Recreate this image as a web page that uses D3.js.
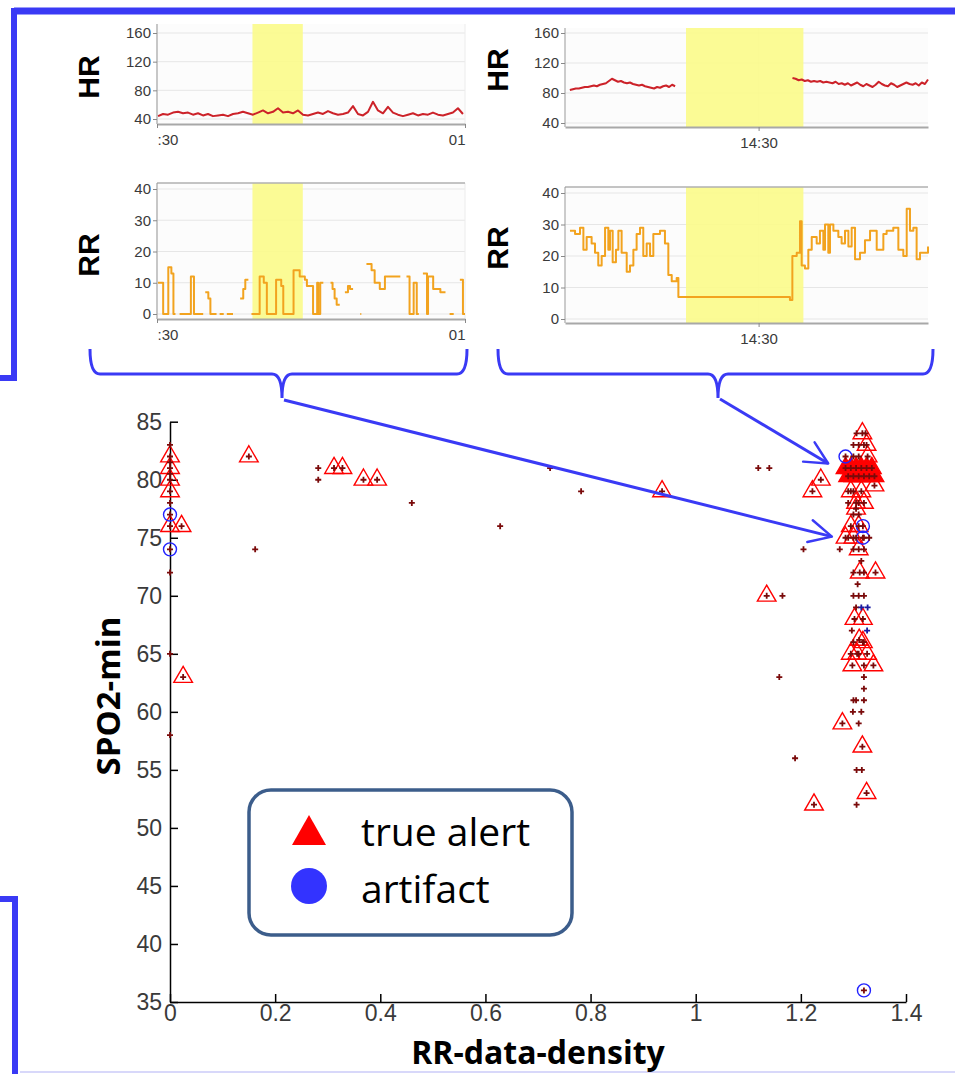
<!DOCTYPE html>
<html>
<head>
<meta charset="utf-8">
<script src="https://cdn.jsdelivr.net/npm/d3@7"></script>
<style>
body { margin: 0; background: #fff; }
svg { display: block; }
</style>
</head>
<body>
<div id="chart"></div>
<script>
// ---- mini trend panels (minutes) ----
// left window: 00:30 -> 01:00, HR sampled evenly between first and last time
const hrLeftValues = [44,47,46,49,50,48,49,46,48,45,47,44,45,46,44,47,48,50,48,46,49,52,48,50,55,49,50,48,52,46,45,47,49,47,51,48,46,47,49,58,47,45,50,64,52,48,57,49,46,44,46,48,45,47,46,49,46,45,47,49,55,47];
const hrLeftSpan = [30.1, 59.8];
const rrLeftTimes = [30.1,30.6,31.1,31.4,31.6,31.8,32.2,33.3,33.6,34.5,34.7,35.0,35.2,35.8,36.1,36.5,36.8,37.4,38.1,38.4,38.6,38.9,39.2,40.0,40.4,40.7,41.6,42.1,42.3,43.3,43.9,44.4,44.6,45.2,45.6,45.7,45.9,46.2,46.9,47.1,47.3,47.5,47.8,48.3,48.6,48.8,49.1,49.8,49.9,50.4,50.9,51.2,51.7,52.2,53.7,54.3,54.6,55.0,55.3,55.5,55.9,56.3,56.4,56.9,57.6,58.1,58.5,58.9,59.5,59.8,60];
const rrLeftValues = [10,0,15,13,0,null,0,12,0,null,7,5,0,null,0,null,0,null,5,8,11,null,0,12,10,0,11,9,0,14,12,11,9,0,10,0,10,null,10,8,5,3,null,7,9,8,null,0,null,16,14,10,8,12,null,12,0,10,0,null,13,0,12,8,7,null,0,null,11,0,null];
const leftHighlight = [39.3, 44.2];
const leftTicks = [30, 60];
const leftTickLabels = [":30", "01"];

// right window: around 14:30 (minutes after 14:00)
const hrRightAValues = [84,85,86,86,87,88,88,89,90,89,91,92,93,96,99,97,95,96,94,93,94,92,91,90,91,89,88,87,86,88,87,89,90,88,91,89];
const hrRightASpan = [14.4, 23.1];
const hrRightBValues = [100,99,97,98,96,97,95,96,95,96,94,95,94,93,95,92,93,91,93,90,92,94,91,89,92,90,88,91,95,92,90,89,93,91,88,90,92,94,92,91,93,90,94,92,98];
const hrRightBSpan = [32.8, 44];
const rrRightTimes = [14.41,14.83,15.24,15.52,15.79,16.20,16.48,16.75,17.03,17.31,17.58,17.72,17.94,18.21,18.41,18.68,19.10,19.37,19.65,19.92,20.20,20.47,20.75,21.03,21.30,21.85,22.26,22.54,22.82,23.23,23.37,32.59,32.79,33.15,33.42,33.56,33.83,34.11,34.39,34.80,35.07,35.35,35.49,35.76,35.90,36.18,36.59,36.86,37.14,37.42,37.69,37.97,38.38,38.79,39.21,39.76,40.31,40.58,41.13,41.55,41.96,42.24,42.51,42.79,43.06,43.34,43.75,44.0];
const rrRightValues = [28,27,29,22,26,24,21,17,20,29,22,28,18,22,28,21,15,17,22,27,29,20,24,20,27,28,24,14,12,13,7,6,20,21,31,17,16,22,26,24,28,22,30,21,30,28,26,24,28,23,29,19,21,25,28,22,27,28,29,22,20,35,28,29,19,21,21,23];
const rightHighlight = [24, 33.7];
const rightTicks = [30];
const rightTickLabels = ["14:30"];

const hrTicks = [40, 80, 120, 160];
const rrTicks = [0, 10, 20, 30, 40];

// ---- scatter: RR-data-density vs SPO2-min ----
const alertPoints = [
  [0,82],[0,81],[0,80],[0,79],[0,76],[0.022,76],[0.025,63],
  [0.15,82],[0.312,81],[0.328,81],[0.368,80],[0.394,80],[0.936,79],
  [1.135,70],[1.222,79],[1.238,80],
  [1.317,84],[1.325,83],[1.327,82],
  [1.295,79],[1.315,79],[1.34,79.5],[1.305,78],[1.32,78],[1.305,77.5],[1.295,76],[1.31,76],[1.285,75],[1.30,75],
  [1.31,74],[1.312,72],[1.342,72],[1.302,68],[1.318,68],[1.311,66.2],[1.318,66],
  [1.295,65],[1.307,65],[1.326,65],[1.298,64],[1.338,64],[1.279,59],[1.317,57],[1.325,53],[1.225,52]
];
// heavily overlapping true alerts around SPO2 80-81
const denseAlertPoints = [
  [1.285,81],[1.295,81],[1.305,81],[1.315,81],[1.325,81],[1.335,81],
  [1.29,80.3],[1.30,80.3],[1.31,80.3],[1.32,80.3],[1.33,80.3],[1.34,80.3]
];
const artifactPoints = [[0,77],[0,74],[1.285,82],[1.318,76],[1.318,75],[1.32,36]];
const otherPoints = [
  [0,83],[0,78],[0,72],[0,65],[0,58],[0,81.5],[0,80.5],
  [0.162,74],[0.282,81],[0.282,80],[0.46,78],[0.628,76],[0.723,81],[0.782,79],[1.119,81],[1.14,81],
  [1.165,70],[1.159,63],[1.189,56],[1.205,74],[1.274,74],
  [1.306,84],[1.323,84],[1.30,83],[1.31,83],[1.32,83],[1.31,82],[1.30,82],[1.29,79],[1.30,79],
  [1.31,78],[1.29,78],[1.30,77],[1.31,77],[1.29,75],[1.305,75],[1.32,75],[1.33,75],[1.30,74],[1.32,74],
  [1.315,73],[1.30,72],[1.32,72],[1.308,71],[1.30,70],[1.31,70],[1.32,70],[1.305,69],[1.297,67],
  [1.30,66],[1.32,66],[1.31,65],[1.32,64],[1.32,63],[1.32,62],[1.30,61],[1.305,61],[1.32,61],
  [1.299,60],[1.315,60],[1.31,59],[1.306,55],[1.316,55],[1.306,52]
];
const bluePlusPoints = [[1.315,69],[1.327,69],[1.326,67]];
const xTicks = [0, 0.2, 0.4, 0.6, 0.8, 1, 1.2, 1.4];
const yTicks = [35, 40, 45, 50, 55, 60, 65, 70, 75, 80, 85];
// arrow targets in data units
const arrowTargets = [[1.259, 75.1], [1.252, 81.4]];

const W = 955, H = 1074;
const blue = "#3a3af5";
const titleFont = "'Open Sans', Lato, sans-serif";

const svg = d3.select("#chart").append("svg")
  .attr("width", W)
  .attr("height", H)
  .style("font-family", "'Liberation Sans', Arial, sans-serif");

// Build step data where a gap keeps the previous value up to the gap time
function stepData(times, values) {
  const pts = [];
  times.forEach((t, i) => {
    if (values[i] == null && i > 0 && values[i - 1] != null) pts.push({ t: t, v: values[i - 1] });
    pts.push({ t: t, v: values[i] });
  });
  return pts;
}

function evenData(values, span) {
  const idx = d3.scaleLinear().domain([0, values.length - 1]).range(span);
  return values.map((v, i) => ({ t: idx(i), v: v }));
}

function panel(cfg) {
  const x = d3.scaleLinear().domain(cfg.xDomain).range([cfg.left, cfg.right]);
  const y = d3.scaleLinear().domain(cfg.yDomain).range([cfg.yLow, cfg.yHigh]);
  const g = svg.append("g");

  g.append("rect")
    .attr("x", cfg.left).attr("y", cfg.top)
    .attr("width", cfg.right - cfg.left).attr("height", cfg.bottom - cfg.top)
    .attr("fill", "#fcfcfc");

  // grid
  g.selectAll(".grid").data(cfg.yTicks).join("line")
    .attr("x1", cfg.left).attr("x2", cfg.right)
    .attr("y1", d => y(d)).attr("y2", d => y(d))
    .attr("stroke", "#e6e6e6").attr("stroke-width", 1);
  g.selectAll(".vgrid").data(cfg.xTicks).join("line")
    .attr("x1", d => x(d)).attr("x2", d => x(d))
    .attr("y1", cfg.top).attr("y2", cfg.bottom)
    .attr("stroke", "#ececec").attr("stroke-width", 1);

  // highlight
  g.append("rect")
    .attr("x", x(cfg.highlight[0])).attr("y", cfg.top)
    .attr("width", x(cfg.highlight[1]) - x(cfg.highlight[0]))
    .attr("height", cfg.bottom - cfg.top)
    .attr("fill", "#fbfb8a").attr("opacity", 0.9);

  if (cfg.topBorder) {
    g.append("line")
      .attr("x1", cfg.left).attr("x2", cfg.right)
      .attr("y1", cfg.top).attr("y2", cfg.top)
      .attr("stroke", "#b0b0b0").attr("stroke-width", 1.5);
  }

  // series
  const line = d3.line()
    .defined(d => d.v != null)
    .x(d => x(d.t)).y(d => y(d.v))
    .curve(cfg.step ? d3.curveStepAfter : d3.curveLinear);
  cfg.series.forEach(s => {
    g.append("path").datum(s)
      .attr("d", line)
      .attr("fill", "none")
      .attr("stroke", cfg.color)
      .attr("stroke-width", 2)
      .attr("stroke-linejoin", "round");
  });

  // left axis
  const ya = g.append("g")
    .attr("transform", `translate(${cfg.left},0)`)
    .call(d3.axisLeft(y).tickValues(cfg.yTicks).tickSize(4).tickSizeOuter(0).tickPadding(2));
  ya.select(".domain").attr("stroke", "#999").attr("d", `M0,${cfg.top}V${cfg.bottom}`);
  ya.selectAll(".tick line").attr("stroke", "#888");
  ya.selectAll("text").attr("font-size", 15).attr("fill", "#3a3a3a");

  // bottom axis
  const xa = g.append("g")
    .attr("transform", `translate(0,${cfg.bottom})`)
    .call(d3.axisBottom(x).tickValues(cfg.xTicks).tickSize(4).tickSizeOuter(0).tickPadding(6)
      .tickFormat((d, i) => cfg.xLabels[i]));
  xa.select(".domain").attr("stroke", "#a8a8a8").attr("stroke-width", 2);
  xa.selectAll(".tick line").attr("stroke", "#888");
  xa.selectAll("text").attr("font-size", 15).attr("fill", "#3a3a3a")
    .attr("text-anchor", (d, i) => cfg.xAnchors ? cfg.xAnchors[i] : "middle");

  // vertical label
  svg.append("text")
    .attr("transform", `translate(${cfg.labelX},${cfg.labelY}) rotate(-90)`)
    .attr("text-anchor", "middle")
    .attr("font-size", 30).attr("font-weight", "bold")
    .attr("fill", "#000")
    .text(cfg.label);
}

// left HR
panel({
  xDomain: [30, 60], left: 157, right: 465,
  yDomain: [40, 160], yLow: 119, yHigh: 33, top: 24, bottom: 124,
  yTicks: hrTicks, xTicks: leftTicks, xLabels: leftTickLabels, xAnchors: ["start", "end"],
  highlight: leftHighlight, color: "#cc2229", step: false,
  series: [evenData(hrLeftValues, hrLeftSpan)],
  label: "HR", labelX: 99, labelY: 77
});
// left RR
panel({
  xDomain: [30, 60], left: 157, right: 465,
  yDomain: [0, 40], yLow: 314, yHigh: 189, top: 183, bottom: 319, topBorder: true,
  yTicks: rrTicks, xTicks: leftTicks, xLabels: leftTickLabels, xAnchors: ["start", "end"],
  highlight: leftHighlight, color: "#f2a31f", step: true,
  series: [stepData(rrLeftTimes, rrLeftValues)],
  label: "RR", labelX: 99, labelY: 255
});
// right HR
panel({
  xDomain: [14, 44], left: 565, right: 928,
  yDomain: [40, 160], yLow: 123, yHigh: 33, top: 28, bottom: 127,
  yTicks: hrTicks, xTicks: rightTicks, xLabels: rightTickLabels,
  highlight: rightHighlight, color: "#cc2229", step: false,
  series: [evenData(hrRightAValues, hrRightASpan), evenData(hrRightBValues, hrRightBSpan)],
  label: "HR", labelX: 508, labelY: 70
});
// right RR
panel({
  xDomain: [14, 44], left: 565, right: 928,
  yDomain: [0, 40], yLow: 319, yHigh: 193, top: 187, bottom: 323, topBorder: true,
  yTicks: rrTicks, xTicks: rightTicks, xLabels: rightTickLabels,
  highlight: rightHighlight, color: "#f2a31f", step: true,
  series: [stepData(rrRightTimes, rrRightValues)],
  label: "RR", labelX: 508, labelY: 248
});

// ---- blue frame and braces ----
const frame = svg.append("g").attr("stroke", blue).attr("fill", "none");
frame.append("path").attr("d", "M14,11H955").attr("stroke-width", 7);
frame.append("path").attr("d", "M14,8V381M0,378H17").attr("stroke-width", 6);
frame.append("path").attr("d", "M15,1074V897M0,899H18").attr("stroke-width", 6);
frame.append("path").attr("d", "M20,1072H955").attr("stroke", "#d8d8fa").attr("stroke-width", 2);

function brace(x0, x1, xm) {
  return `M${x0},349 Q${x0},374 ${x0 + 10},374 L${xm - 10},374 Q${xm},374 ${xm},398 ` +
    `Q${xm},374 ${xm + 10},374 L${x1 - 10},374 Q${x1},374 ${x1},349`;
}
frame.append("path").attr("d", brace(90, 467, 282)).attr("stroke-width", 3);
frame.append("path").attr("d", brace(498, 933, 718)).attr("stroke-width", 3);

// ---- scatter ----
const xs = d3.scaleLinear().domain([0, 1.4]).range([170, 906]);
const ys = d3.scaleLinear().domain([35, 85]).range([1002, 421.7]);
const sg = svg.append("g");

const xAxis = sg.append("g")
  .attr("transform", `translate(0,${ys(35)})`)
  .call(d3.axisBottom(xs).tickValues(xTicks).tickSizeInner(-8).tickSizeOuter(0).tickPadding(3)
    .tickFormat(d => String(+d.toFixed(1))));
const yAxis = sg.append("g")
  .attr("transform", `translate(${xs(0)},0)`)
  .call(d3.axisLeft(ys).tickValues(yTicks).tickSizeInner(-8).tickSizeOuter(0).tickPadding(8));
[xAxis, yAxis].forEach(a => {
  a.select(".domain").attr("stroke", "#000").attr("stroke-width", 1.5);
  a.selectAll(".tick line").attr("stroke", "#000").attr("stroke-width", 1.5);
  a.selectAll("text")
    .attr("font-family", "'Liberation Sans', Arial, sans-serif")
    .attr("font-size", 23).attr("fill", "#3a3a3a");
});

const tri = d3.symbol().type(d3.symbolTriangle).size(150);
sg.selectAll(".dense").data(denseAlertPoints).join("path")
  .attr("transform", d => `translate(${xs(d[0])},${ys(d[1])})`)
  .attr("d", tri)
  .attr("fill", "#ff0000").attr("stroke", "#ff0000").attr("stroke-width", 1.4);
sg.selectAll(".alert").data(alertPoints).join("path")
  .attr("transform", d => `translate(${xs(d[0])},${ys(d[1])})`)
  .attr("d", tri)
  .attr("fill", "none").attr("stroke", "#ff0000").attr("stroke-width", 1.4);

sg.selectAll(".artifact").data(artifactPoints).join("circle")
  .attr("cx", d => xs(d[0])).attr("cy", d => ys(d[1])).attr("r", 6.5)
  .attr("fill", "none").attr("stroke", "#2222ff").attr("stroke-width", 1.4);

const plus = "M-3,0H3M0,-3V3";
sg.selectAll(".plus").data(otherPoints.concat(alertPoints, denseAlertPoints, artifactPoints)).join("path")
  .attr("transform", d => `translate(${xs(d[0])},${ys(d[1])})`)
  .attr("d", plus)
  .attr("stroke", "#7a0a0a").attr("stroke-width", 1.8);
sg.selectAll(".bplus").data(bluePlusPoints).join("path")
  .attr("transform", d => `translate(${xs(d[0])},${ys(d[1])})`)
  .attr("d", plus)
  .attr("stroke", "#1a1aa0").attr("stroke-width", 1.8);

// axis titles
svg.append("text")
  .attr("transform", `translate(120,696) rotate(-90)`)
  .attr("text-anchor", "middle")
  .attr("font-family", titleFont)
  .attr("font-size", 33).attr("font-weight", "bold")
  .text("SPO2-min");
svg.append("text")
  .attr("x", 538).attr("y", 1064)
  .attr("text-anchor", "middle")
  .attr("font-family", titleFont)
  .attr("font-size", 32).attr("font-weight", "bold")
  .text("RR-data-density");

// ---- arrows ----
const defs = svg.append("defs");
defs.append("marker")
  .attr("id", "head")
  .attr("viewBox", "0 0 12 12")
  .attr("refX", 11).attr("refY", 6)
  .attr("markerWidth", 9).attr("markerHeight", 9)
  .attr("markerUnits", "strokeWidth")
  .attr("orient", "auto")
  .append("path")
  .attr("d", "M1,1 L11,6 L1,11")
  .attr("fill", "none").attr("stroke", blue).attr("stroke-width", 1.1)
  .attr("stroke-linecap", "round").attr("stroke-linejoin", "round");

const arrowStarts = [[284, 400], [720, 399]];
arrowTargets.forEach((t, i) => {
  svg.append("line")
    .attr("x1", arrowStarts[i][0]).attr("y1", arrowStarts[i][1])
    .attr("x2", xs(t[0])).attr("y2", ys(t[1]))
    .attr("stroke", blue).attr("stroke-width", 3)
    .attr("marker-end", "url(#head)");
});

// ---- legend ----
const lg = svg.append("g").attr("font-family", titleFont);
lg.append("rect")
  .attr("x", 249).attr("y", 790).attr("width", 323).attr("height", 145)
  .attr("rx", 22).attr("fill", "#fff")
  .attr("stroke", "#3c5d8b").attr("stroke-width", 3.5);
lg.append("path")
  .attr("d", "M309,815 L326,845 L292,845 Z")
  .attr("fill", "#ff0000");
lg.append("circle")
  .attr("cx", 309).attr("cy", 886).attr("r", 18)
  .attr("fill", "#3333ff");
lg.append("text").attr("x", 361).attr("y", 846).attr("font-size", 39).text("true alert");
lg.append("text").attr("x", 361).attr("y", 903).attr("font-size", 39).text("artifact");
</script>
</body>
</html>
